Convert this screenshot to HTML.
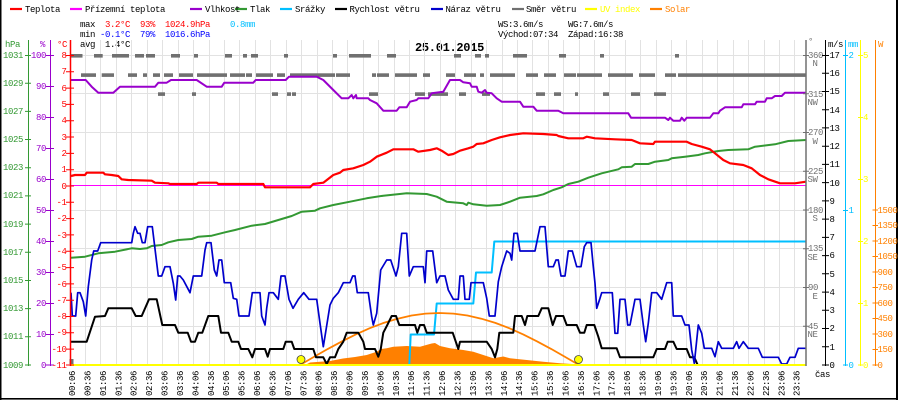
<!DOCTYPE html>
<html><head><meta charset="utf-8">
<style>
html,body{margin:0;padding:0;background:#fff;}
svg{display:block;}
text{font-family:"Liberation Mono","DejaVu Sans Mono",monospace;font-size:9px;letter-spacing:-0.4px;}
</style></head>
<body>
<svg width="900" height="400" viewBox="0 0 900 400" xmlns="http://www.w3.org/2000/svg">
<rect x="0" y="0" width="900" height="400" fill="#fff"/>
<!-- borders -->
<rect x="0" y="0" width="1.5" height="400" fill="#000"/>
<rect x="896" y="0" width="2" height="400" fill="#000"/>
<rect x="0" y="398" width="898" height="1.6" fill="#000"/>

<!-- legend -->
<g stroke-width="2.2">
<line x1="10" y1="9" x2="22" y2="9" stroke="#ff0000"/>
<line x1="70" y1="9" x2="82" y2="9" stroke="#ff00ff"/>
<line x1="190" y1="9" x2="202" y2="9" stroke="#9900cc"/>
<line x1="235" y1="9" x2="247" y2="9" stroke="#339933"/>
<line x1="280" y1="9" x2="292" y2="9" stroke="#00bfff"/>
<line x1="335" y1="9" x2="347" y2="9" stroke="#000"/>
<line x1="431" y1="9" x2="443" y2="9" stroke="#0000cc"/>
<line x1="512" y1="9" x2="524" y2="9" stroke="#707070"/>
<line x1="585" y1="9" x2="597" y2="9" stroke="#ffff00"/>
<line x1="650" y1="9" x2="662" y2="9" stroke="#ff8000"/>
</g>
<g fill="#000">
<text x="25" y="12">Teplota</text>
<text x="85" y="12">Přízemní teplota</text>
<text x="205" y="12">Vlhkost</text>
<text x="250" y="12">Tlak</text>
<text x="295" y="12">Srážky</text>
<text x="349.5" y="12">Rychlost větru</text>
<text x="445.5" y="12">Náraz větru</text>
<text x="526" y="12">Směr větru</text>
<text x="600" y="12" fill="#ffff00">UV index</text>
<text x="665" y="12" fill="#ff8000">Solar</text>
</g>

<!-- stats -->
<text x="80" y="27">max</text>
<text x="105" y="27" fill="#ff0000">3.2°C</text>
<text x="140" y="27" fill="#ff0000">93%</text>
<text x="165" y="27" fill="#ff0000">1024.9hPa</text>
<text x="230" y="27" fill="#00bfff">0.8mm</text>
<text x="80" y="37">min</text>
<text x="100" y="37" fill="#0000ff">-0.1°C</text>
<text x="140" y="37" fill="#0000ff">79%</text>
<text x="165" y="37" fill="#0000ff">1016.6hPa</text>
<text x="80" y="47">avg</text>
<text x="105" y="47">1.4°C</text>
<text x="498" y="27">WS:3.6m/s</text>
<text x="568" y="27">WG:7.6m/s</text>
<text x="498" y="37">Východ:07:34</text>
<text x="568" y="37">Západ:16:38</text>
<text x="415" y="51" style="font-size:12px;font-weight:bold;letter-spacing:-0.3px">25.01.2015</text>

<!-- grid -->
<g stroke="#e2e2e2" stroke-width="1">
<path d="M85.5 40V365M100.5 40V365M116.5 40V365M131.5 40V365M147.5 40V365M162.5 40V365M178.5 40V365M193.5 40V365M209.5 40V365M224.5 40V365M239.5 40V365M255.5 40V365M270.5 40V365M286.5 40V365M301.5 40V365M317.5 40V365M332.5 40V365M347.5 40V365M363.5 40V365M378.5 40V365M394.5 40V365M409.5 40V365M424.5 40V365M440.5 40V365M455.5 40V365M471.5 40V365M486.5 40V365M502.5 40V365M517.5 40V365M532.5 40V365M548.5 40V365M563.5 40V365M579.5 40V365M594.5 40V365M609.5 40V365M625.5 40V365M640.5 40V365M656.5 40V365M671.5 40V365M686.5 40V365M702.5 40V365M717.5 40V365M733.5 40V365M748.5 40V365M764.5 40V365M779.5 40V365M794.5 40V365"/>
<path d="M70 55.5H806M70 93.5H806M70 132.5H806M70 171.5H806M70 210.5H806M70 248.5H806M70 287.5H806M70 326.5H806"/>
</g>

<!-- solar fill -->
<polygon fill="#ff8000" points="305,365 310,362.5 330,361 343,358.5 355,357 366.7,355 376.7,351.7 381,349 386.7,348.3 393.3,346.7 406.7,346 420,346.7 428,344.5 431.7,343.5 435,343 440,346 450,348.3 463.3,350 473.3,351.7 483.3,355 493.3,358.3 503.3,356.5 510,358.3 526.7,360 543.3,361.7 560,363.3 572,364 575,365"/>

<!-- magenta apparent temp -->
<line x1="70" y1="185.5" x2="806" y2="185.5" stroke="#ff00ff" stroke-width="1"/>

<!-- wind direction dashes -->
<g fill="#707070">
<rect x="71" y="54" width="11.5" height="3.6"/><rect x="94" y="54" width="8.7" height="3.6"/><rect x="112" y="54" width="17" height="3.6"/><rect x="135" y="54" width="9" height="3.6"/><rect x="146" y="54" width="9" height="3.6"/><rect x="171" y="54" width="9" height="3.6"/><rect x="194" y="54" width="4" height="3.6"/><rect x="225" y="54" width="7" height="3.6"/><rect x="243" y="54" width="4" height="3.6"/><rect x="251" y="54" width="7" height="3.6"/><rect x="284" y="54" width="4" height="3.6"/><rect x="333" y="54" width="4" height="3.6"/><rect x="349" y="54" width="22" height="3.6"/><rect x="387" y="54" width="9" height="3.6"/><rect x="454" y="54" width="7" height="3.6"/><rect x="475" y="54" width="6" height="3.6"/><rect x="485" y="54" width="4" height="3.6"/><rect x="513" y="54" width="14" height="3.6"/><rect x="559" y="54" width="7" height="3.6"/><rect x="600" y="54" width="4" height="3.6"/><rect x="675" y="54" width="4" height="3.6"/>
<rect x="81" y="73.3" width="15" height="3.6"/><rect x="101.7" y="73.3" width="12.3" height="3.6"/><rect x="128" y="73.3" width="9" height="3.6"/><rect x="143" y="73.3" width="4" height="3.6"/><rect x="153" y="73.3" width="7" height="3.6"/><rect x="164" y="73.3" width="9" height="3.6"/><rect x="179" y="73.3" width="14" height="3.6"/><rect x="197" y="73.3" width="30" height="3.6"/><rect x="230" y="73.3" width="15" height="3.6"/><rect x="246" y="73.3" width="6" height="3.6"/><rect x="256" y="73.3" width="17" height="3.6"/><rect x="277" y="73.3" width="8" height="3.6"/><rect x="290" y="73.3" width="45" height="3.6"/><rect x="336" y="73.3" width="14" height="3.6"/><rect x="372" y="73.3" width="4" height="3.6"/><rect x="377" y="73.3" width="12" height="3.6"/><rect x="395" y="73.3" width="22" height="3.6"/><rect x="423" y="73.3" width="7" height="3.6"/><rect x="446" y="73.3" width="9" height="3.6"/><rect x="464" y="73.3" width="12" height="3.6"/><rect x="480" y="73.3" width="4" height="3.6"/><rect x="490" y="73.3" width="25" height="3.6"/><rect x="526" y="73.3" width="12" height="3.6"/><rect x="544" y="73.3" width="12" height="3.6"/><rect x="564" y="73.3" width="12" height="3.6"/><rect x="577" y="73.3" width="25" height="3.6"/><rect x="608" y="73.3" width="25" height="3.6"/><rect x="639" y="73.3" width="16" height="3.6"/><rect x="665" y="73.3" width="11" height="3.6"/><rect x="678" y="73.3" width="128" height="3.6"/>
<rect x="158" y="92.3" width="7" height="3.6"/><rect x="192" y="92.3" width="4" height="3.6"/><rect x="272" y="92.3" width="6" height="3.6"/><rect x="287" y="92.3" width="4" height="3.6"/><rect x="292" y="92.3" width="4" height="3.6"/><rect x="369" y="92.3" width="9" height="3.6"/><rect x="415" y="92.3" width="10" height="3.6"/><rect x="428" y="92.3" width="20" height="3.6"/><rect x="459" y="92.3" width="7" height="3.6"/><rect x="482" y="92.3" width="8" height="3.6"/><rect x="536" y="92.3" width="9" height="3.6"/><rect x="554" y="92.3" width="7" height="3.6"/><rect x="575" y="92.3" width="3" height="3.6"/><rect x="603" y="92.3" width="6" height="3.6"/><rect x="631" y="92.3" width="9" height="3.6"/><rect x="654" y="92.3" width="12" height="3.6"/>
<rect x="69.5" y="359" width="4" height="5"/>
</g>

<g fill="none" stroke-linejoin="round" stroke-linecap="butt">
<!-- pressure -->
<polyline stroke="#339933" stroke-width="2" points="71,257.7 85,256.7 98.3,253.3 115,251.7 131.7,248.3 140,249 146.7,248.3 151.7,246 161.7,245 168.3,242.3 178.3,240 191.7,239 198.3,236.7 211.7,235.7 225,232.3 235,230 251.7,225.7 265,224 278.3,220 291.7,216 301.7,211.7 315,210.7 320,208.3 333.3,205 350,201.7 366.7,198.3 383.3,195.7 406.7,193.3 426.7,194 436.7,196.7 446.7,201.7 463.3,203.3 466.7,205 468.3,202.7 473.3,204.3 486.7,205.7 500,205 510,201.7 520,197.7 536.7,196 543.3,194.3 553.3,190 561.7,187.3 568.3,184 578.3,181.7 588.3,177.7 601.7,173.3 618.3,169.3 621.7,167.3 631.7,166.7 635,164 648.3,164 655,161.7 668.3,160 671.7,158.3 685,156.7 698.3,155 705,153.3 718.3,151 728.3,150 748.3,149.3 755,146.7 775,144.3 788.3,141 806,140"/>
<!-- temperature -->
<polyline stroke="#ff0000" stroke-width="2.2" points="71,176 75,175 85,175 86.7,172.7 103.3,172.7 105,174.3 111.7,175 118.3,176 121.7,179.3 128.3,180 151.7,180.7 155,182.7 168.3,183.3 170,184 196.7,184 198.3,182.7 216.7,182.7 218.3,184 263.3,184 265,187.3 310,187.3 313.3,184 323.3,182.7 333.3,175 340,172.7 343.3,170 353.3,168.3 363.3,165 370,161.7 376.7,156.7 386.7,152.7 393.3,149.3 413.3,149.3 418.3,151.7 430,150 436.7,148.3 441.7,150.7 448.3,155 453.3,154 460,150.7 468.3,148.3 473.3,146.7 476.7,144 483.3,143.3 491.7,140 500,137.3 510,135 523.3,133.3 543.3,134 556.7,135 558.3,136 568.3,138.3 583.3,138.3 586.7,136.7 595,138.3 615,139.3 631.7,140 640,143.3 653.3,144 655,141.7 686.7,141.7 691.7,144 701.7,146.7 710,149.3 715,153.3 723.3,160 730,163.3 743.3,165 751.7,168.3 760,175 768.3,179.3 780,183.3 795,183.3 806,181.7"/>
<!-- humidity -->
<polyline stroke="#9900cc" stroke-width="2" points="71,80 85.7,80 91.7,86.7 98.3,92.7 113.3,92.7 120,86.7 155,86.7 158.3,82.7 166.7,82.7 171,80 196.7,80 206.7,86.7 221.7,86.7 224.3,82.7 253.3,82.7 255.7,80 285.7,80 289,76.7 316.7,76.7 323.3,80 333.3,90 341.7,98.3 348.3,98.3 351.7,95 353.3,98.3 356,95 356.7,98.3 368.3,98.3 370,100 376.7,103.3 383.3,110.7 396.7,110.7 399.3,107.3 406.7,107.3 410,101.7 416.7,100 418.3,98.3 428.3,98.3 431.7,93.3 443.3,91.7 450,80 460,80 463.3,82.3 470,83.3 471.7,86.7 476.7,86.7 478.3,91.7 481.7,92.7 485,90 486.7,92.7 491.7,93.3 496.7,98.3 501.7,101.7 520,101.7 523.3,106.7 533.3,106.7 536.7,110.7 558.3,110.7 563.3,113.3 628.3,113.3 631,117.7 665,117.7 668.3,120 670,117.7 673.3,120.7 680,120.7 681.7,117.7 684.3,120.7 686.7,117.7 710,117.7 713.3,113.3 718.3,113.3 720,110.7 725,107.3 741.7,107.3 743.3,104.3 755,104.3 756.7,101.7 765,101.7 766.7,98.3 771.7,98.3 775,96 781.7,96 785,92.7 806,92.7"/>
<!-- precipitation -->
<polyline stroke="#00bfff" stroke-width="2" points="409.3,365 410.7,334.5 434,334.5 436.7,303.5 473.3,303.5 476,272.5 491.7,272.5 494.3,241.5 806,241.5"/>
<!-- theoretical solar -->
<polyline stroke="#ff8000" stroke-width="1.8" points="300,365 313.95,356.9 327.9,348.9 341.85,341.4 355.8,334.4 369.75,328.2 383.7,322.9 397.65,318.7 411.6,315.5 425.55,313.6 439.5,313 453.45,313.6 467.4,315.5 481.35,318.7 495.3,322.9 509.25,328.2 523.2,334.4 537.15,341.4 551.1,348.9 565.05,356.9 579,365"/>
<!-- wind speed -->
<polyline stroke="#000" stroke-width="2" points="71,341.7 86.7,341.7 95,316.7 105,316 108.3,308.3 131.7,308.3 135.7,316 141.7,316 149,299.3 156.7,299.3 162.3,325 175,325 178.3,332.7 187.7,332.7 191,341.7 195,341.7 198.3,332.7 202.3,332.7 208.3,316 218.3,316 221,332.7 228.3,332.7 231.7,341.7 238.3,341.7 241,349 248.3,349 252.3,357.3 255,349 265,349 267.7,356.7 270,349 283.3,349 285.7,341.7 291.7,341.7 294.3,349 313.3,349 316,357.3 323.3,357.3 326.7,364 330,357.3 335,357.3 338.3,349 343.3,341.7 346.7,332.7 358.3,332.7 363.3,341.7 365,349 375,349 378.3,356.7 380.7,349.3 383.3,332.7 387.3,325 391.7,316 396,316 399.3,325 415,325 417.3,332.7 420,325 424,325 426.7,332.7 452.7,332.7 458.3,349 460,341.7 486.7,341.7 491.7,349 495,357.3 497.3,349 499.3,332.7 513.3,332.7 515,316 521.7,316 525,325 527.3,316 538.3,316 541.7,308.3 548.3,308.3 552.7,325 556,316 563.3,316 566.7,325 576.7,325 580,332.7 584.3,332.7 586.7,325 594.3,325 598.3,336.7 601.7,348.3 616.7,348.3 620,357.3 653.3,357.3 656.7,349 665,349 667.7,341.7 673.3,341.7 676.7,349 686.7,349 690,357.3 694.3,357.3 697.7,365 806,365"/>
<!-- gust -->
<polyline stroke="#0000cc" stroke-width="1.7" points="71,292.7 72.3,316 75.7,316 77.7,292.7 80,292.7 83.3,301.7 85.7,316 88.3,286.7 91.7,260 93.7,251 97.7,251 100.7,242.7 131.7,242.7 133.3,233.3 135,226.7 137.7,233.3 140,233.3 142.3,242.7 145,242.7 147.7,226.7 152.3,226.7 158.3,276 161.7,276 165,266.7 170,266.7 173.3,283.3 175.7,300 177.7,276 180,276 183.3,280 187.7,288.3 190,292.7 193.3,276 201.7,276 205,250 206.7,242.7 211,242.7 214.3,270 216.7,276 219,260 221.7,260 224.3,282.7 230.7,282.7 233.3,298.3 236.7,299.3 239,316 249,316 252.3,292.7 260,292.7 261.7,316 265,325 266.7,308.3 269,292.7 273.3,292.7 278.3,299.3 281,276 285,276 289,299.3 293,308.3 298.3,299.3 303.7,292.7 309,299.3 316.7,299.3 320,323.3 323.3,346.7 326,330 330,305 333.3,298.3 338.3,292.7 343.3,282.7 350,282.7 352.7,276 355,276 357.3,292.7 368.3,292.7 371.7,316.7 373.3,325 376.7,313.3 380.7,270 386.7,260 390.7,260 396,276 398.3,266.7 401.7,233.3 406.7,233.3 409.3,276 413.3,266.7 423.3,266.7 425,282.7 426.7,251 432.7,251 436.7,282.7 440,276 445,276 448.3,290 453.3,299.3 458.3,299.3 460,276 463.3,276 465,299.3 469.3,299.3 471,282.7 483.3,282.7 486.7,298.3 489.3,316 495,316 498.3,281.7 501.7,266.7 506.7,251 510,253.3 511.7,260 514,233.3 517.3,233.3 520,251 535,251 540,226.7 545,226.7 548.3,266.7 553.3,266.7 556,260 558.3,260 561,276 565,276 568.3,251 572.3,251 576.7,266.7 581,266.7 584.3,246.7 586.7,242.7 591,242.7 593.3,266.7 595,283.3 596.7,308.3 600,298.3 601.7,292.7 612.3,292.7 615,333.3 617.7,333.3 620,299.3 625,299.3 627.7,325 630,325 635,299.3 640,299.3 643.3,325 645.7,341.7 648.3,323.3 651.7,292.7 656.7,292.7 661.7,299.3 666.7,282.7 671.7,282.7 673.3,316 681.7,316 685,325 689,325 691.7,350 694.3,363.3 698.3,325 701.7,333.3 704.3,348.3 711.7,348.3 715,356.7 718.3,341.7 721.7,348.3 733.3,348.3 736.7,341.7 739,348.3 743.3,341.7 748.3,348.3 758.3,348.3 762.3,357.3 778.3,357.3 781.7,364 786.7,364 790,357.3 795,357.3 798.3,348.3 806,348.3"/>
</g>
<!-- UV baseline -->
<line x1="70" y1="365" x2="806" y2="365" stroke="#ffff00" stroke-width="2"/>
<!-- sunrise / sunset markers -->
<circle cx="301" cy="359.5" r="4" fill="#ffff00" stroke="#444" stroke-width="0.8"/>
<circle cx="578.5" cy="359.5" r="4" fill="#ffff00" stroke="#444" stroke-width="0.8"/>

<!-- left axes -->
<line x1="28.5" y1="40" x2="28.5" y2="366" stroke="#339933" stroke-width="1"/>
<line x1="50.5" y1="40" x2="50.5" y2="366" stroke="#9900cc" stroke-width="1"/>
<line x1="70.5" y1="40" x2="70.5" y2="366" stroke="#ff0000" stroke-width="1.5"/>
<text x="5" y="47" fill="#339933">hPa</text>
<text x="40" y="47" fill="#9900cc">%</text>
<text x="57" y="47" fill="#ff0000">°C</text>

<g stroke="#339933" stroke-width="1">
<path d="M25 55.5H31M25 83.2H31M25 111.4H31M25 139.5H31M25 167.7H31M25 195.9H31M25 224.1H31M25 252.3H31M25 280.5H31M25 308.6H31M25 336.8H31M25 365H31"/>
</g>
<g fill="#339933" text-anchor="end">
<text x="23" y="58">1031</text><text x="23" y="86">1029</text><text x="23" y="114">1027</text><text x="23" y="142">1025</text><text x="23" y="170">1023</text><text x="23" y="198">1021</text><text x="23" y="227">1019</text><text x="23" y="255">1017</text><text x="23" y="283">1015</text><text x="23" y="311">1013</text><text x="23" y="339">1011</text><text x="23" y="368">1009</text>
</g>
<g stroke="#9900cc" stroke-width="1">
<path d="M46 55.5H54M46 86.5H54M46 117.5H54M46 148.5H54M46 179.5H54M46 210.5H54M46 241.5H54M46 272.5H54M46 303.5H54M46 334.5H54M46 365H54"/>
</g>
<g fill="#9900cc" text-anchor="end">
<text x="46" y="58">100</text><text x="46" y="89">90</text><text x="46" y="120">80</text><text x="46" y="151">70</text><text x="46" y="182">60</text><text x="46" y="213">50</text><text x="46" y="244">40</text><text x="46" y="275">30</text><text x="46" y="306">20</text><text x="46" y="337">10</text><text x="46" y="368">0</text>
</g>
<g stroke="#ff0000" stroke-width="1">
<path d="M66 55.5H74M66 71.8H74M66 88.1H74M66 104.4H74M66 120.7H74M66 137H74M66 153.4H74M66 169.7H74M66 186H74M66 202.3H74M66 218.6H74M66 234.9H74M66 251.2H74M66 267.6H74M66 283.9H74M66 300.2H74M66 316.5H74M66 332.8H74M66 349.1H74M66 365H74"/>
</g>
<g fill="#ff0000" text-anchor="end">
<text x="66.5" y="58">8</text><text x="66.5" y="74">7</text><text x="66.5" y="91">6</text><text x="66.5" y="107">5</text><text x="66.5" y="123">4</text><text x="66.5" y="140">3</text><text x="66.5" y="156">2</text><text x="66.5" y="172">1</text><text x="66.5" y="189">0</text><text x="66.5" y="205">-1</text><text x="66.5" y="221">-2</text><text x="66.5" y="238">-3</text><text x="66.5" y="254">-4</text><text x="66.5" y="270">-5</text><text x="66.5" y="287">-6</text><text x="66.5" y="303">-7</text><text x="66.5" y="319">-8</text><text x="66.5" y="335">-9</text><text x="66.5" y="352">-10</text><text x="66.5" y="368">-11</text>
</g>

<!-- right axes -->
<line x1="806" y1="40" x2="806" y2="366" stroke="#707070" stroke-width="1.5"/>
<line x1="825.5" y1="40" x2="825.5" y2="366" stroke="#000" stroke-width="1"/>
<line x1="845.5" y1="40" x2="845.5" y2="366" stroke="#00bfff" stroke-width="1"/>
<line x1="860.5" y1="40" x2="860.5" y2="366" stroke="#ffff00" stroke-width="1"/>
<line x1="875.5" y1="40" x2="875.5" y2="366" stroke="#ff8000" stroke-width="1"/>
<text x="808" y="44" fill="#707070">°</text>
<text x="828" y="47" fill="#000">m/s</text>
<text x="848" y="47" fill="#00bfff">mm</text>
<text x="878" y="47" fill="#ff8000">W</text>

<g stroke="#707070" stroke-width="1">
<path d="M803 55.5H809M803 93.8H809M803 132.5H809M803 171.3H809M803 210H809M803 248.8H809M803 287.5H809M803 326.3H809"/>
</g>
<g fill="#707070">
<text x="808" y="58">360</text><text x="808" y="97">315</text><text x="808" y="135">270</text><text x="808" y="174">225</text><text x="808" y="213">180</text><text x="808" y="251">135</text><text x="808" y="290">90</text><text x="808" y="329">45</text>
</g>
<g fill="#707070" text-anchor="end">
<text x="817.5" y="66">N</text><text x="817.5" y="105">NW</text><text x="817.5" y="144">W</text><text x="817.5" y="182">SW</text><text x="817.5" y="221">S</text><text x="817.5" y="260">SE</text><text x="817.5" y="299">E</text><text x="817.5" y="337">NE</text>
</g>

<g stroke="#000" stroke-width="1">
<path d="M822 55.5H829M822 73.2H829M822 91.5H829M822 109.7H829M822 127.9H829M822 146.2H829M822 164.4H829M822 182.6H829M822 200.9H829M822 219.1H829M822 237.4H829M822 255.6H829M822 273.8H829M822 292.1H829M822 310.3H829M822 328.5H829M822 346.8H829M822 365H829"/>
</g>
<g fill="#000">
<text x="829.5" y="58">17</text><text x="829.5" y="76">16</text><text x="829.5" y="94">15</text><text x="829.5" y="113">14</text><text x="829.5" y="131">13</text><text x="829.5" y="149">12</text><text x="829.5" y="167">11</text><text x="829.5" y="186">10</text><text x="829.5" y="204">9</text><text x="829.5" y="222">8</text><text x="829.5" y="240">7</text><text x="829.5" y="258">6</text><text x="829.5" y="277">5</text><text x="829.5" y="295">4</text><text x="829.5" y="313">3</text><text x="829.5" y="331">2</text><text x="829.5" y="350">1</text><text x="829.5" y="368">0</text>
</g>

<g stroke="#00bfff" stroke-width="1"><path d="M843 55.5H848M843 210.5H848M843 365H848"/></g>
<g fill="#00bfff"><text x="848.5" y="58">2</text><text x="848.5" y="213">1</text><text x="848.5" y="368">0</text></g>

<g stroke="#ffff00" stroke-width="1"><path d="M858 55.5H863M858 117.5H863M858 179.5H863M858 241.5H863M858 303.5H863M858 365H863"/></g>
<g fill="#ffff00"><text x="863" y="58">5</text><text x="863" y="120">4</text><text x="863" y="182">3</text><text x="863" y="244">2</text><text x="863" y="306">1</text><text x="863" y="368">0</text></g>

<g stroke="#ff8000" stroke-width="1"><path d="M872.5 210H878M872.5 225.5H878M872.5 241H878M872.5 256.5H878M872.5 272H878M872.5 287.5H878M872.5 303H878M872.5 318.5H878M872.5 334H878M872.5 349.5H878M872.5 365H878"/></g>
<g fill="#ff8000">
<text x="877.5" y="213">1500</text><text x="877.5" y="228">1350</text><text x="877.5" y="244">1200</text><text x="877.5" y="259">1050</text><text x="877.5" y="275">900</text><text x="877.5" y="290">750</text><text x="877.5" y="306">600</text><text x="877.5" y="321">450</text><text x="877.5" y="337">300</text><text x="877.5" y="352">150</text><text x="877.5" y="368">0</text>
</g>

<text x="815" y="377" fill="#000">čas</text>

<!-- time labels -->
<g fill="#000">
<text transform="translate(75,396) rotate(-90)">00:06</text>
<text transform="translate(90.4,396) rotate(-90)">00:36</text>
<text transform="translate(105.8,396) rotate(-90)">01:06</text>
<text transform="translate(121.3,396) rotate(-90)">01:36</text>
<text transform="translate(136.7,396) rotate(-90)">02:06</text>
<text transform="translate(152.1,396) rotate(-90)">02:36</text>
<text transform="translate(167.5,396) rotate(-90)">03:06</text>
<text transform="translate(182.9,396) rotate(-90)">03:36</text>
<text transform="translate(198.4,396) rotate(-90)">04:06</text>
<text transform="translate(213.8,396) rotate(-90)">04:36</text>
<text transform="translate(229.2,396) rotate(-90)">05:06</text>
<text transform="translate(244.6,396) rotate(-90)">05:36</text>
<text transform="translate(260,396) rotate(-90)">06:06</text>
<text transform="translate(275.5,396) rotate(-90)">06:36</text>
<text transform="translate(290.9,396) rotate(-90)">07:06</text>
<text transform="translate(306.3,396) rotate(-90)">07:36</text>
<text transform="translate(321.7,396) rotate(-90)">08:06</text>
<text transform="translate(337.1,396) rotate(-90)">08:36</text>
<text transform="translate(352.6,396) rotate(-90)">09:06</text>
<text transform="translate(368,396) rotate(-90)">09:36</text>
<text transform="translate(383.4,396) rotate(-90)">10:06</text>
<text transform="translate(398.8,396) rotate(-90)">10:36</text>
<text transform="translate(414.2,396) rotate(-90)">11:06</text>
<text transform="translate(429.7,396) rotate(-90)">11:36</text>
<text transform="translate(445.1,396) rotate(-90)">12:06</text>
<text transform="translate(460.5,396) rotate(-90)">12:36</text>
<text transform="translate(475.9,396) rotate(-90)">13:06</text>
<text transform="translate(491.3,396) rotate(-90)">13:36</text>
<text transform="translate(506.8,396) rotate(-90)">14:06</text>
<text transform="translate(522.2,396) rotate(-90)">14:36</text>
<text transform="translate(537.6,396) rotate(-90)">15:06</text>
<text transform="translate(553,396) rotate(-90)">15:36</text>
<text transform="translate(568.4,396) rotate(-90)">16:06</text>
<text transform="translate(583.9,396) rotate(-90)">16:36</text>
<text transform="translate(599.3,396) rotate(-90)">17:06</text>
<text transform="translate(614.7,396) rotate(-90)">17:36</text>
<text transform="translate(630.1,396) rotate(-90)">18:06</text>
<text transform="translate(645.5,396) rotate(-90)">18:36</text>
<text transform="translate(661,396) rotate(-90)">19:06</text>
<text transform="translate(676.4,396) rotate(-90)">19:36</text>
<text transform="translate(691.8,396) rotate(-90)">20:06</text>
<text transform="translate(707.2,396) rotate(-90)">20:36</text>
<text transform="translate(722.6,396) rotate(-90)">21:06</text>
<text transform="translate(738.1,396) rotate(-90)">21:36</text>
<text transform="translate(753.5,396) rotate(-90)">22:06</text>
<text transform="translate(768.9,396) rotate(-90)">22:36</text>
<text transform="translate(784.3,396) rotate(-90)">23:06</text>
<text transform="translate(799.7,396) rotate(-90)">23:36</text>
</g>
</svg>
</body></html>
